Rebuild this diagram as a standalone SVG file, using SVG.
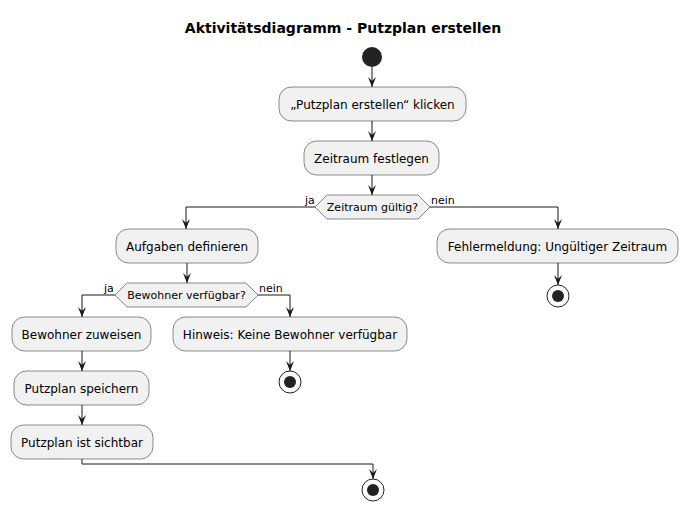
<svg xmlns="http://www.w3.org/2000/svg" width="688" height="511" viewBox="0 0 688 511">
<defs>
<style>
.box{fill:#F1F1F1;stroke:#181818;stroke-width:0.5}
.t{font-family:"DejaVu Sans",sans-serif;font-size:12px;fill:#000;text-anchor:middle}
.d{font-family:"DejaVu Sans",sans-serif;font-size:11px;fill:#000;text-anchor:middle}
.l{font-family:"DejaVu Sans",sans-serif;font-size:11px;fill:#000}
.ln{fill:none;stroke:#181818;stroke-width:1}
.stopo{fill:none;stroke:#222;stroke-width:1}
.stopi{fill:#222}
</style>
<marker id="ah" markerWidth="10" markerHeight="12" refX="5" refY="10" orient="auto-start-reverse" markerUnits="userSpaceOnUse" viewBox="0 0 10 12">
</marker>
</defs>
<rect width="688" height="511" fill="#fff"/>
<text x="343" y="33" font-family="DejaVu Sans, sans-serif" font-size="14" font-weight="bold" text-anchor="middle">Aktivitätsdiagramm - Putzplan erstellen</text>

<g id="connectors">
<path class="ln" d="M372,67 V87"/>
<path class="ln" d="M372,121 V141"/>
<path class="ln" d="M372,175 V195"/>
<path class="ln" d="M315,207 H186 V229"/>
<path class="ln" d="M430,207 H558 V229"/>
<path class="ln" d="M187,263 V283"/>
<path class="ln" d="M115,295 H82 V317"/>
<path class="ln" d="M258,295 H290 V317"/>
<path class="ln" d="M82,351 V371"/>
<path class="ln" d="M82,405 V425"/>
<path class="ln" d="M82,459 V464 H373 V479"/>
<path class="ln" d="M290,351 V371"/>
<path class="ln" d="M558,263 V285"/>
<g fill="#181818">
<polygon points="368,77 372,87 376,77 372,81"/>
<polygon points="368,131 372,141 376,131 372,135"/>
<polygon points="368,185 372,195 376,185 372,189"/>
<polygon points="182,219 186,229 190,219 186,223"/>
<polygon points="554,219 558,229 562,219 558,223"/>
<polygon points="183,273 187,283 191,273 187,277"/>
<polygon points="78,307 82,317 86,307 82,311"/>
<polygon points="286,307 290,317 294,307 290,311"/>
<polygon points="78,361 82,371 86,361 82,365"/>
<polygon points="78,415 82,425 86,415 82,419"/>
<polygon points="369,469 373,479 377,469 373,473"/>
<polygon points="286,361 290,371 294,361 290,365"/>
<polygon points="554,275 558,285 562,275 558,279"/>
</g>
<text class="l" x="305" y="204">ja</text>
<text class="l" x="431" y="204">nein</text>
<text class="l" x="104" y="292">ja</text>
<text class="l" x="259" y="292">nein</text>
</g>

<g id="start"><circle cx="372" cy="57" r="10" fill="#222"/></g>

<g id="n1"><rect class="box" x="279" y="87" width="187" height="34" rx="12.5"/><text class="t" x="372.5" y="108.5">„Putzplan erstellen“ klicken</text></g>
<g id="n2"><rect class="box" x="304" y="141" width="135" height="34" rx="12.5"/><text class="t" x="371.5" y="162.5">Zeitraum festlegen</text></g>
<g id="dec1"><polygon class="box" points="327,195 418,195 430,207 418,219 327,219 315,207"/><text class="d" x="372.5" y="211">Zeitraum gültig?</text></g>
<g id="n3"><rect class="box" x="116" y="229" width="142" height="34" rx="12.5"/><text class="t" x="187" y="250.5">Aufgaben definieren</text></g>
<g id="n4"><rect class="box" x="437" y="229" width="241" height="34" rx="12.5"/><text class="t" x="557.5" y="250.5">Fehlermeldung: Ungültiger Zeitraum</text></g>
<g id="stop1"><circle class="stopo" cx="558" cy="296" r="11"/><circle class="stopi" cx="558" cy="296" r="6"/></g>
<g id="dec2"><polygon class="box" points="127,283 246,283 258,295 246,307 127,307 115,295"/><text class="d" x="186.5" y="299">Bewohner verfügbar?</text></g>
<g id="n5"><rect class="box" x="12" y="317" width="139" height="34" rx="12.5"/><text class="t" x="81.5" y="338.5">Bewohner zuweisen</text></g>
<g id="n6"><rect class="box" x="173" y="317" width="234" height="34" rx="12.5"/><text class="t" x="290" y="338.5">Hinweis: Keine Bewohner verfügbar</text></g>
<g id="stop2"><circle class="stopo" cx="290" cy="382" r="11"/><circle class="stopi" cx="290" cy="382" r="6"/></g>
<g id="n7"><rect class="box" x="14" y="371" width="135" height="34" rx="12.5"/><text class="t" x="81.5" y="392.5">Putzplan speichern</text></g>
<g id="n8"><rect class="box" x="11" y="425" width="142" height="34" rx="12.5"/><text class="t" x="82" y="446.5">Putzplan ist sichtbar</text></g>
<g id="stop3"><circle class="stopo" cx="373" cy="490" r="11"/><circle class="stopi" cx="373" cy="490" r="6"/></g>
</svg>
